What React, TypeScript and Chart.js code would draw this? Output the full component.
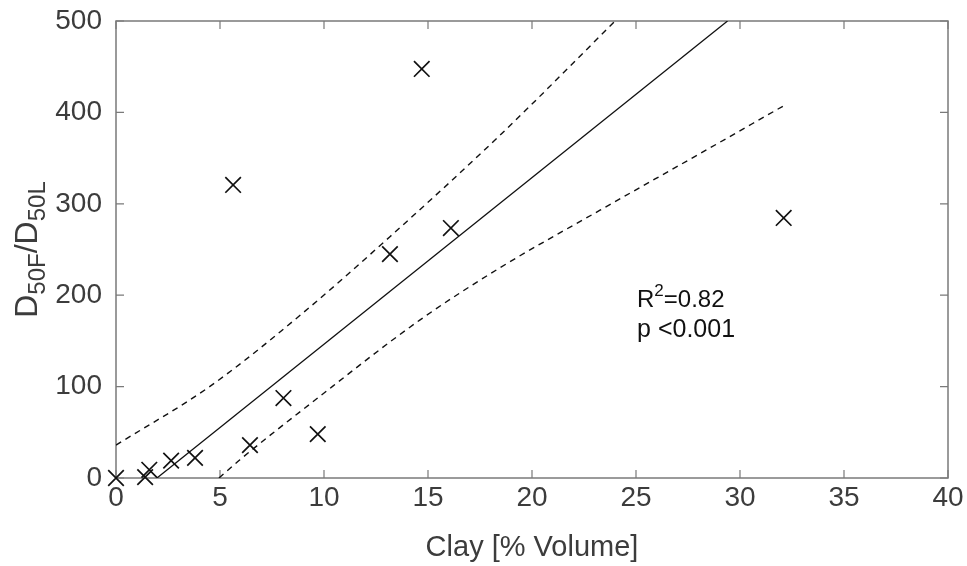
import React, { useEffect, useRef } from 'react';
import { Chart, registerables } from 'chart.js';

Chart.register(...registerables);

// Measured points (Clay % volume vs D50F/D50L)
const clayX = [0, 1.4, 1.6, 2.65, 3.8, 6.44, 8.05, 9.7, 5.63, 13.17, 14.7, 16.1, 32.1];
const ratioY = [0, 1, 9, 19, 22, 36, 87.5, 48, 320.6, 245, 447.5, 273.5, 284.5];

// Regression line
const fitX = [1.97, 29.4];
const fitY = [0, 500];

// Upper confidence bound (dashed)
const upperX = [0, 4.5, 8.85, 13.17, 18.46, 24.0];
const upperY = [36, 100, 178, 264, 375, 500];

// Lower confidence bound (dashed)
const lowerX = [4.95, 5.96, 9.33, 14.62, 18.46, 23.27, 28.08, 32.16];
const lowerY = [0, 20, 81, 173, 230, 293, 355, 408];

// Axis ticks
const xTicks = [0, 5, 10, 15, 20, 25, 30, 35, 40];
const yTicks = [0, 100, 200, 300, 400, 500];

// Texts
const xTitle = 'Clay [% Volume]';
const statsR2 = '0.82';
const statsP = 'p <0.001';
const statsAnchor = { x: 25.05, y: 187 };

const FONT = "'Liberation Sans', Arial, Helvetica, sans-serif";
const TEXT_COLOR = '#3c3c3c';
const AXIS_COLOR = '#7a7a7a';

const zip = (xs: number[], ys: number[]) => xs.map((x, i) => ({ x, y: ys[i] }));

const framePlugin = {
  id: 'matlabFrame',
  beforeDatasetsDraw(chart: any) {
    const { ctx, chartArea: a, scales } = chart;
    const xs = scales.x;
    const ys = scales.y;
    const tl = 8;
    ctx.save();
    ctx.strokeStyle = AXIS_COLOR;
    ctx.lineWidth = 1.5;
    ctx.strokeRect(a.left, a.top, a.right - a.left, a.bottom - a.top);
    ctx.lineWidth = 1.2;
    ctx.beginPath();
    xTicks.forEach((v) => {
      const px = xs.getPixelForValue(v);
      ctx.moveTo(px, a.bottom);
      ctx.lineTo(px, a.bottom - tl);
      ctx.moveTo(px, a.top);
      ctx.lineTo(px, a.top + tl);
    });
    yTicks.forEach((v) => {
      const py = ys.getPixelForValue(v);
      ctx.moveTo(a.left, py);
      ctx.lineTo(a.left + tl, py);
      ctx.moveTo(a.right, py);
      ctx.lineTo(a.right - tl, py);
    });
    ctx.stroke();
    ctx.restore();
  },
  afterDraw(chart: any) {
    const { ctx, chartArea: a, scales } = chart;
    ctx.save();
    // Y axis title: D_{50F}/D_{50L}
    const big = 32;
    const small = 24;
    const parts: [string, boolean][] = [
      ['D', false],
      ['50F', true],
      ['/', false],
      ['D', false],
      ['50L', true],
    ];
    let total = 0;
    parts.forEach(([t, sub]) => {
      ctx.font = `${sub ? small : big}px ${FONT}`;
      total += ctx.measureText(t).width;
    });
    const cy = (a.top + a.bottom) / 2;
    ctx.translate(37, cy);
    ctx.rotate(-Math.PI / 2);
    ctx.fillStyle = TEXT_COLOR;
    ctx.textBaseline = 'alphabetic';
    ctx.textAlign = 'left';
    let cx = -total / 2;
    parts.forEach(([t, sub]) => {
      ctx.font = `${sub ? small : big}px ${FONT}`;
      ctx.fillText(t, cx, sub ? 8 : 0);
      cx += ctx.measureText(t).width;
    });
    ctx.restore();

    // Statistics annotation
    ctx.save();
    const ax = scales.x.getPixelForValue(statsAnchor.x);
    const ay = scales.y.getPixelForValue(statsAnchor.y);
    ctx.fillStyle = '#111';
    ctx.textBaseline = 'alphabetic';
    ctx.textAlign = 'left';
    ctx.font = `24px ${FONT}`;
    ctx.fillText('R', ax, ay);
    let w = ctx.measureText('R').width;
    ctx.font = `17px ${FONT}`;
    ctx.fillText('2', ax + w, ay - 11);
    w += ctx.measureText('2').width;
    ctx.font = `24px ${FONT}`;
    ctx.fillText('=' + statsR2, ax + w, ay);
    ctx.font = `25px ${FONT}`;
    ctx.fillText(statsP, ax, ay + 30);
    ctx.restore();
  },
};

export default function App() {
  const canvasRef = useRef<HTMLCanvasElement | null>(null);

  useEffect(() => {
    if (!canvasRef.current) return;
    const chart = new Chart(canvasRef.current, {
      type: 'scatter',
      data: {
        datasets: [
          {
            label: 'data',
            data: zip(clayX, ratioY),
            pointStyle: 'crossRot',
            pointRadius: 11,
            pointBorderWidth: 1.7,
            pointBorderColor: '#111',
            pointBackgroundColor: '#111',
            showLine: false,
            clip: false as any,
          },
          {
            label: 'fit',
            data: zip(fitX, fitY),
            showLine: true,
            borderColor: '#111',
            borderWidth: 1.3,
            pointRadius: 0,
          },
          {
            label: 'upper',
            data: zip(upperX, upperY),
            showLine: true,
            borderColor: '#111',
            borderWidth: 1.4,
            borderDash: [6, 5],
            pointRadius: 0,
            cubicInterpolationMode: 'monotone',
          },
          {
            label: 'lower',
            data: zip(lowerX, lowerY),
            showLine: true,
            borderColor: '#111',
            borderWidth: 1.4,
            borderDash: [6, 5],
            pointRadius: 0,
            cubicInterpolationMode: 'monotone',
          },
        ] as any,
      },
      options: {
        animation: false,
        responsive: true,
        maintainAspectRatio: false,
        layout: { padding: { left: 0, top: 21, right: 19, bottom: 0 } },
        plugins: {
          legend: { display: false },
          tooltip: { enabled: false },
        },
        scales: {
          x: {
            type: 'linear',
            min: 0,
            max: 40,
            grid: { display: false, drawTicks: true, tickLength: 3 },
            border: { display: false },
            afterBuildTicks: (s: any) => {
              s.ticks = xTicks.map((v) => ({ value: v }));
            },
            afterFit: (s: any) => {
              s.height = 88;
            },
            ticks: {
              padding: 0,
              color: TEXT_COLOR,
              font: { family: FONT, size: 28 },
              maxRotation: 0,
              autoSkip: false,
              callback: (v: any) => String(v),
            },
            title: {
              display: true,
              text: xTitle,
              color: TEXT_COLOR,
              font: { family: FONT, size: 29 },
              padding: { top: 0, bottom: 1 },
            },
          },
          y: {
            type: 'linear',
            min: 0,
            max: 500,
            grid: { display: false, drawTicks: true, tickLength: 14 },
            border: { display: false },
            afterBuildTicks: (s: any) => {
              s.ticks = yTicks.map((v) => ({ value: v }));
            },
            afterFit: (s: any) => {
              s.width = 116;
            },
            ticks: {
              padding: 0,
              color: TEXT_COLOR,
              font: { family: FONT, size: 28 },
              autoSkip: false,
              callback: (v: any) => String(v),
            },
          },
        },
      },
      plugins: [framePlugin],
    });
    return () => chart.destroy();
  }, []);

  return (
    <div style={{ position: 'fixed', left: 0, top: 0, width: 967, height: 566, background: '#fff' }}>
      <canvas ref={canvasRef} />
    </div>
  );
}
